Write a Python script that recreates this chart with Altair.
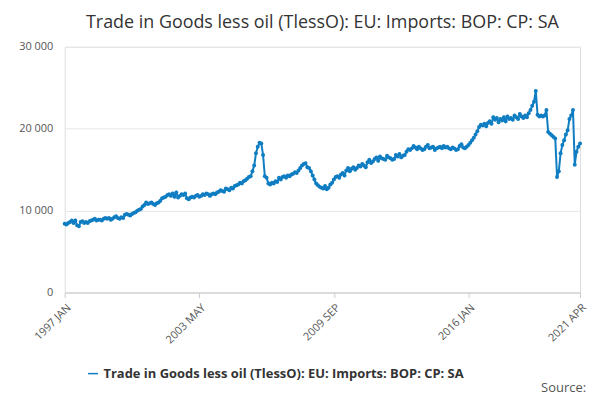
import altair as alt
import pandas as pd

series_name = "Trade in Goods less oil (TlessO): EU: Imports: BOP: CP: SA"

years = list(range(1997, 2022))
months = ["JAN", "FEB", "MAR", "APR", "MAY", "JUN",
          "JUL", "AUG", "SEP", "OCT", "NOV", "DEC"]

values_by_year = {
    1997: [8400, 8300, 8500, 8600, 8800, 8500, 8800, 8200, 8100, 8600, 8700, 8500],
    1998: [8600, 8500, 8700, 8800, 8900, 9000, 8800, 8900, 8900, 8800, 9000, 9100],
    1999: [9000, 9100, 8900, 9000, 9200, 9300, 9100, 9000, 9200, 9100, 9500, 9600],
    2000: [9500, 9400, 9600, 9700, 9800, 10000, 10100, 10200, 10500, 10700, 11000, 10800],
    2001: [10900, 11000, 10800, 10700, 10900, 11000, 11200, 11500, 11600, 11700, 11900, 12000],
    2002: [11800, 12100, 11700, 12200, 11600, 11800, 12000, 11900, 12100, 11500, 11400, 11600],
    2003: [11700, 11600, 11800, 11900, 11700, 11800, 12000, 11900, 12100, 12000, 11800, 12000],
    2004: [12100, 12000, 12200, 12300, 12500, 12400, 12300, 12700, 12600, 12500, 12800, 12700],
    2005: [13000, 13100, 13200, 13400, 13300, 13600, 13700, 13900, 14100, 14200, 14800, 15500],
    2006: [17000, 17800, 18300, 18200, 16800, 14200, 14000, 13300, 13200, 13400, 13300, 13600],
    2007: [13500, 14000, 13800, 14100, 14200, 14000, 14300, 14200, 14400, 14500, 14700, 14600],
    2008: [14900, 15200, 15500, 15700, 15800, 15300, 15200, 14800, 14300, 13800, 13300, 13100],
    2009: [12900, 12800, 12700, 13000, 12600, 12800, 13200, 13400, 13800, 14100, 14200, 14000],
    2010: [14400, 14600, 14300, 14900, 15200, 14800, 15100, 15300, 15000, 15200, 15500, 15400],
    2011: [15700, 15500, 15300, 15900, 16200, 15800, 16000, 16300, 16500, 16100, 16600, 16400],
    2012: [16300, 16200, 16700, 16500, 16400, 16200, 16300, 16800, 16600, 16900, 16500, 16700],
    2013: [16800, 17200, 17500, 17400, 17600, 17900, 17700, 17500, 17800, 17600, 17400, 17500],
    2014: [17800, 18000, 17600, 17700, 17800, 17400, 17600, 17700, 17800, 17600, 17900, 17700],
    2015: [17800, 17600, 17500, 17700, 17600, 17400, 17500, 17900, 18100, 17700, 17600, 17800],
    2016: [18000, 18300, 18600, 18900, 19300, 19700, 20200, 20500, 20400, 20600, 20300, 20700],
    2017: [20900, 20600, 21400, 21100, 21300, 20800, 21200, 21000, 21400, 20900, 21500, 21200],
    2018: [21300, 21100, 21600, 21400, 21200, 21800, 21500, 21300, 21600, 21400, 21900, 22300],
    2019: [22800, 23300, 24600, 21700, 21500, 21600, 21500, 21600, 22300, 19600, 19400, 19200],
    2020: [19000, 18800, 14100, 14800, 17000, 18000, 18600, 19300, 19800, 21200, 21600, 22300],
    2021: [15600, 17200, 17800, 18200],
}

rows = []
for y in years:
    for i, v in enumerate(values_by_year[y]):
        rows.append({"idx": len(rows), "label": f"{y} {months[i]}",
                     "value": v, "series": series_name})
df = pd.DataFrame(rows)

tick_idx = [0, 76, 152, 228, 291]
label_expr = " : ".join(
    f"datum.value == {i} ? '{df.loc[i, 'label']}'" for i in tick_idx
) + " : ''"

blue = "#0f7dc2"

line = alt.Chart(df).mark_line(
    color=blue, strokeWidth=2,
    point=alt.OverlayMarkDef(color=blue, size=16, filled=True)
).encode(
    x=alt.X("idx:Q", title=None,
            scale=alt.Scale(domain=[0, 291], nice=False, zero=False),
            axis=alt.Axis(values=tick_idx, labelExpr=label_expr, labelAngle=-45,
                          grid=False, domainColor="#ccc", tickColor="#ccc",
                          labelColor="#555", labelFontSize=11, labelPadding=4)),
    y=alt.Y("value:Q", title=None,
            scale=alt.Scale(domain=[0, 30000]),
            axis=alt.Axis(values=[0, 10000, 20000, 30000], domain=False, ticks=False,
                          labelExpr="replace(format(datum.value, ','), ',', ' ')",
                          gridColor="#e6e6e6", labelColor="#555", labelFontSize=11,
                          labelPadding=12)),
    color=alt.Color("series:N", scale=alt.Scale(range=[blue]),
                    legend=alt.Legend(title=None, orient="none", legendX=22, legendY=322,
                                      symbolType="stroke",
                                      labelFontSize=13, labelFontWeight="bold",
                                      labelColor="#333", labelLimit=500)),
)

source = alt.Chart(pd.DataFrame({"t": ["Source:"]})).mark_text(
    align="right", fontSize=13, color="#555"
).encode(text="t:N", x=alt.value(524), y=alt.value(343))

chart = alt.layer(line, source).properties(
    width=518, height=247,
    padding={"left": 10, "top": 5, "right": 4, "bottom": 2},
    title=alt.TitleParams(series_name, fontSize=18, fontWeight="normal",
                          color="#333", anchor="middle", offset=9),
).configure_view(stroke=None).configure(font="Open Sans")

chart.save("out.html", embed_options={"renderer": "svg", "actions": False})
